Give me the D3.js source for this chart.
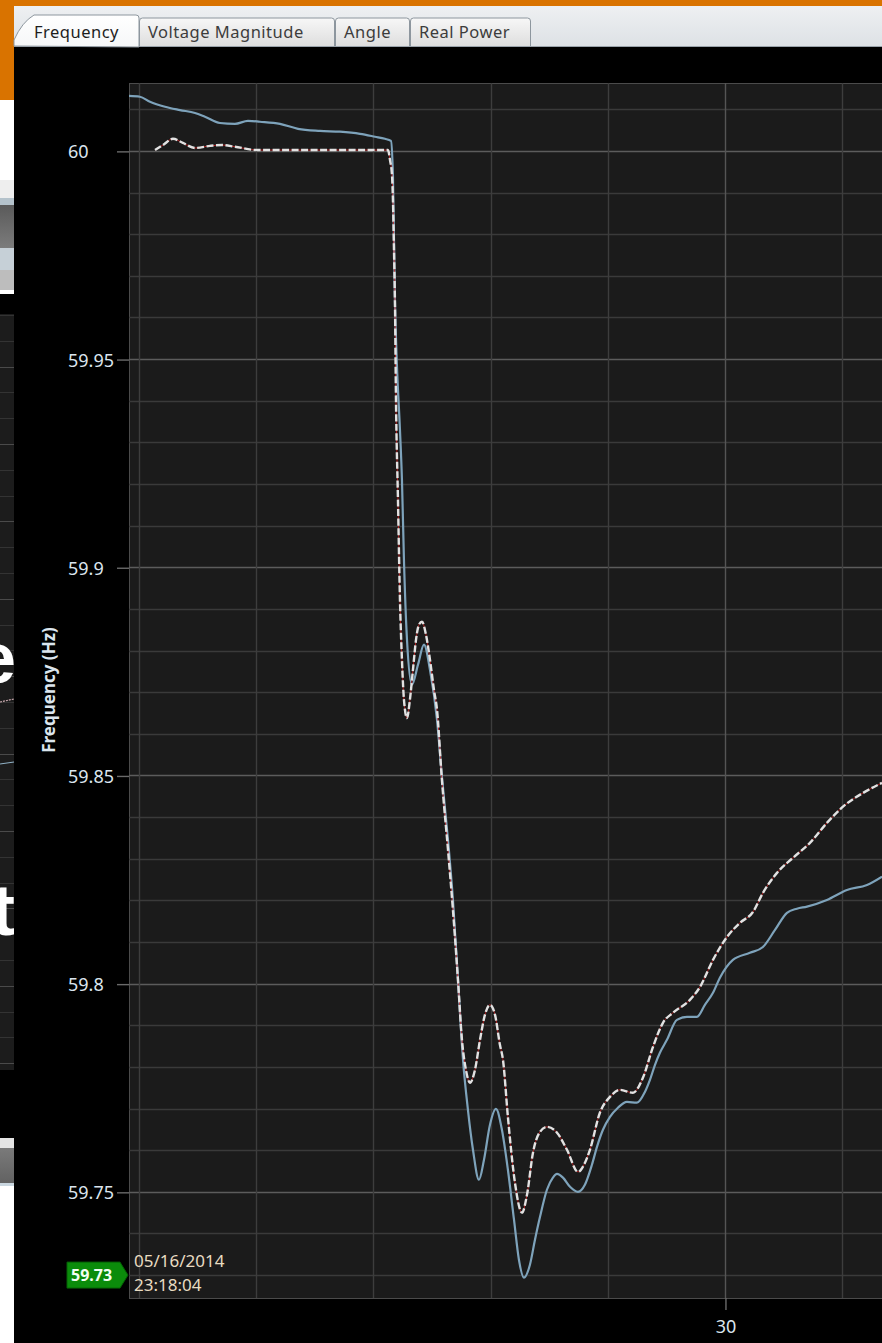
<!DOCTYPE html>
<html>
<head>
<meta charset="utf-8">
<script src="https://cdn.jsdelivr.net/npm/d3@7"></script>
<style>
  html, body { margin: 0; padding: 0; background: #000; }
  svg { display: block; }
  text { font-family: "Noto Sans", "Open Sans", sans-serif; }
</style>
</head>
<body>
<script>
// ---- data (seconds, Hz) ----
var tabs = ["Frequency", "Voltage Magnitude", "Angle", "Real Power"];

// solid light-blue trace
var blueTime = [24.915, 25.008, 25.094, 25.222, 25.350, 25.478, 25.563, 25.691, 25.819, 25.930,
  26.032, 26.203, 26.357, 26.544, 26.715, 26.886, 27.014, 27.099, 27.150, 27.167,
  27.184, 27.201, 27.227, 27.244, 27.261, 27.287, 27.329, 27.381, 27.432, 27.483,
  27.543, 27.585, 27.637, 27.679, 27.722, 27.765, 27.807, 27.850, 27.901, 27.944,
  27.995, 28.046, 28.097, 28.148, 28.200, 28.242, 28.285, 28.336, 28.379, 28.422,
  28.481, 28.532, 28.567, 28.618, 28.678, 28.746, 28.805, 28.865, 28.908, 28.959,
  29.019, 29.087, 29.164, 29.249, 29.317, 29.360, 29.403, 29.445, 29.505, 29.590,
  29.676, 29.761, 29.829, 29.898, 29.957, 30.068, 30.213, 30.324, 30.427, 30.529,
  30.614, 30.700, 30.870, 31.041, 31.212, 31.340];
var blueHz = [60.0132, 60.0130, 60.0118, 60.0106, 60.0098, 60.0091, 60.0082, 60.0067, 60.0065, 60.0072,
  60.0070, 60.0065, 60.0053, 60.0048, 60.0046, 60.0041, 60.0034, 60.0029, 60.0024, 59.9942,
  59.9642, 59.9486, 59.9330, 59.9210, 59.9018, 59.8826, 59.8718, 59.8766, 59.8814, 59.8754,
  59.8634, 59.8497, 59.8345, 59.8201, 59.8009, 59.7817, 59.7697, 59.7601, 59.7529, 59.7577,
  59.7661, 59.7699, 59.7649, 59.7553, 59.7433, 59.7337, 59.7294, 59.7325, 59.7385, 59.7440,
  59.7505, 59.7534, 59.7543, 59.7534, 59.7512, 59.7500, 59.7517, 59.7565, 59.7608, 59.7649,
  59.7680, 59.7702, 59.7716, 59.7714, 59.7740, 59.7769, 59.7805, 59.7834, 59.7865, 59.7913,
  59.7920, 59.7920, 59.7949, 59.7978, 59.8014, 59.8057, 59.8074, 59.8088, 59.8129, 59.8170,
  59.8180, 59.8185, 59.8201, 59.8225, 59.8237, 59.8257];

// dashed white/red trace
var dashTime = [25.137, 25.205, 25.290, 25.375, 25.478, 25.606, 25.708, 25.819, 26.007, 26.374,
  26.800, 27.125, 27.142, 27.159, 27.167, 27.176, 27.184, 27.193, 27.210, 27.227,
  27.244, 27.261, 27.287, 27.312, 27.338, 27.364, 27.389, 27.415, 27.449, 27.483,
  27.517, 27.543, 27.585, 27.637, 27.679, 27.722, 27.756, 27.790, 27.824, 27.867,
  27.910, 27.952, 27.995, 28.038, 28.080, 28.106, 28.148, 28.208, 28.268, 28.311,
  28.362, 28.422, 28.481, 28.567, 28.652, 28.746, 28.797, 28.848, 28.933, 29.019,
  29.104, 29.215, 29.300, 29.386, 29.471, 29.556, 29.701, 29.787, 29.898, 30.017,
  30.128, 30.239, 30.324, 30.444, 30.580, 30.725, 30.870, 31.007, 31.178, 31.340];
var dashHz = [60.0002, 60.0014, 60.0029, 60.0019, 60.0007, 60.0012, 60.0014, 60.0010, 60.0002, 60.0002,
  60.0002, 60.0002, 59.9978, 59.9942, 59.9882, 59.9762, 59.9642, 59.9402, 59.9162, 59.8922,
  59.8778, 59.8682, 59.8638, 59.8682, 59.8754, 59.8826, 59.8862, 59.8869, 59.8838, 59.8778,
  59.8706, 59.8658, 59.8489, 59.8321, 59.8177, 59.8009, 59.7865, 59.7793, 59.7762, 59.7793,
  59.7865, 59.7925, 59.7949, 59.7925, 59.7853, 59.7817, 59.7680, 59.7522, 59.7450, 59.7493,
  59.7594, 59.7644, 59.7656, 59.7642, 59.7601, 59.7548, 59.7565, 59.7601, 59.7690, 59.7728,
  59.7745, 59.7738, 59.7774, 59.7848, 59.7906, 59.7930, 59.7961, 59.7992, 59.8057, 59.8112,
  59.8146, 59.8172, 59.8218, 59.8266, 59.8302, 59.8338, 59.8386, 59.8425, 59.8458, 59.8482];

var yMajor = [60, 59.95, 59.9, 59.85, 59.8, 59.75];
var xMajor = [30];
var cursorValue = "59.73";
var cursorDate = ["05/16/2014", "23:18:04"];

var W = 882, H = 1343;
var plot = {left: 129, top: 83, right: 883, bottom: 1298};

var svg = d3.select("body").append("svg")
    .attr("width", W)
    .attr("height", H);

var defs = svg.append("defs");
function vgrad(id, stops) {
    var g = defs.append("linearGradient").attr("id", id)
        .attr("x1", 0).attr("y1", 0).attr("x2", 0).attr("y2", 1);
    stops.forEach(function(s) {
        g.append("stop").attr("offset", s[0]).attr("stop-color", s[1]);
    });
}
vgrad("tabbar", [[0, "#eef0f2"], [1, "#dde1e5"]]);
vgrad("tabOn", [[0, "#ffffff"], [1, "#f6f7f8"]]);
vgrad("tabOff", [[0, "#f7f7f7"], [1, "#dedede"]]);
vgrad("btnGray", [[0, "#5a5a5a"], [1, "#7c7c7c"]]);
vgrad("btnGray2", [[0, "#7a7a7a"], [1, "#626262"]]);

defs.append("clipPath").attr("id", "plotClip")
  .append("rect")
    .attr("x", plot.left).attr("y", plot.top)
    .attr("width", plot.right - plot.left).attr("height", plot.bottom - plot.top);

// ---- window chrome ----
svg.append("rect").attr("x", 0).attr("y", 0).attr("width", W).attr("height", H).attr("fill", "#000");
svg.append("rect").attr("x", 0).attr("y", 0).attr("width", W).attr("height", 6).attr("fill", "#d97300");
svg.append("rect").attr("x", 14).attr("y", 6).attr("width", W - 14).attr("height", 41).attr("fill", "url(#tabbar)");
svg.append("line").attr("x1", 14).attr("x2", W).attr("y1", 46.5).attr("y2", 46.5).attr("stroke", "#9aa3ab");

// left strip (piece of another window behind)
var strip = svg.append("g");
[[0, 100, "#d97300"], [100, 80, "#ffffff"], [180, 18, "#eeeeee"], [198, 7, "#b4c2cb"],
 [205, 43, "url(#btnGray)"], [248, 22, "#c6d0d7"], [270, 20, "#bdbdbd"], [290, 4, "#ffffff"],
 [294, 20, "#000000"], [314, 756, "#1c1c1c"], [1070, 68, "#000000"], [1138, 10, "#e4e4e4"],
 [1148, 35, "url(#btnGray2)"], [1183, 3, "#c9d6df"], [1186, 157, "#ffffff"]]
  .forEach(function(r) {
      strip.append("rect").attr("x", 0).attr("y", r[0]).attr("width", 14).attr("height", r[1]).attr("fill", r[2]);
  });
d3.range(315, 1070, 25.8).forEach(function(yy, i) {
    strip.append("line").attr("x1", 0).attr("x2", 14).attr("y1", Math.round(yy) + 0.5).attr("y2", Math.round(yy) + 0.5)
        .attr("stroke", i % 3 === 2 ? "#4a4a4a" : "#333");
});
strip.append("line").attr("x1", 0).attr("x2", 14).attr("y1", 702).attr("y2", 699)
    .attr("stroke", "#c9a9ae").attr("stroke-width", 1.2).attr("stroke-dasharray", "2,1");
strip.append("line").attr("x1", 0).attr("x2", 14).attr("y1", 764).attr("y2", 762)
    .attr("stroke", "#8fb0c4").attr("stroke-width", 1.2);
var stripClip = defs.append("clipPath").attr("id", "stripClip");
stripClip.append("rect").attr("x", 0).attr("y", 0).attr("width", 14).attr("height", H);
strip.append("text").attr("x", 16).attr("y", 683).attr("text-anchor", "end")
    .attr("clip-path", "url(#stripClip)")
    .attr("font-size", 72).attr("font-weight", "bold").attr("fill", "#fff")
    .style("font-family", "Liberation Sans, Arial, sans-serif").text("e");
strip.append("text").attr("x", -9).attr("y", 935)
    .attr("clip-path", "url(#stripClip)")
    .attr("font-size", 72).attr("font-weight", "bold").attr("fill", "#fff")
    .style("font-family", "Liberation Sans, Arial, sans-serif").text("t");

// tabs
var tabX = [14, 139, 335, 410, 531];
var tabG = svg.append("g");
tabs.forEach(function(name, i) {
    var x0 = tabX[i], x1 = tabX[i + 1];
    if (i === 0) {
        tabG.append("path")
            .attr("d", "M" + x0 + ",46 L" + x0 + ",40 Q" + (x0 + 8) + ",22 " + (x0 + 20) + ",15 L" + (x1 - 3) + ",15 Q" + x1 + ",15 " + x1 + ",18 L" + x1 + ",47 Z")
            .attr("fill", "url(#tabOn)").attr("stroke", "#8d969e");
    } else {
        tabG.append("path")
            .attr("d", "M" + (x0 + 0.5) + ",46 L" + (x0 + 0.5) + ",21 Q" + (x0 + 0.5) + ",18 " + (x0 + 3.5) + ",18 L" + (x1 - 3.5) + ",18 Q" + (x1 - 0.5) + ",18 " + (x1 - 0.5) + ",21 L" + (x1 - 0.5) + ",46")
            .attr("fill", "url(#tabOff)").attr("stroke", "#8d969e");
    }
    tabG.append("text")
        .attr("x", i === 0 ? x0 + 20 : x0 + 9)
        .attr("y", 38)
        .attr("font-size", 16.5)
        .attr("letter-spacing", 0.5)
        .attr("fill", i === 0 ? "#1e1e1e" : "#3c3c3c")
        .text(name);
});

// ---- scales ----
var x = d3.scaleLinear().domain([24.915, 31.34]).range([129, 882]);
var y = d3.scaleLinear().domain([59.7245, 60.0163]).range([plot.bottom, plot.top]);

// plot background
svg.append("rect")
    .attr("x", plot.left + 0.5).attr("y", plot.top + 0.5)
    .attr("width", plot.right - plot.left).attr("height", plot.bottom - plot.top)
    .attr("fill", "#1b1b1b").attr("stroke", "#4b4b4b");

// grid
var yGrid = d3.range(5973, 6002).map(function(k) { return k / 100; });
var xGrid = d3.range(25, 32);
var grid = svg.append("g").attr("clip-path", "url(#plotClip)");
grid.selectAll("line.h").data(yGrid).enter().append("line")
    .attr("x1", plot.left).attr("x2", plot.right)
    .attr("y1", function(d) { return Math.round(y(d)) + 0.5; })
    .attr("y2", function(d) { return Math.round(y(d)) + 0.5; })
    .attr("stroke", function(d) { return Math.round(d * 100) % 5 === 0 ? "#5c5c5c" : "#3a3a3a"; })
    .attr("stroke-width", function(d) { return Math.round(d * 100) % 5 === 0 ? 1.6 : 1.4; });
grid.selectAll("line.v").data(xGrid).enter().append("line")
    .attr("y1", plot.top).attr("y2", plot.bottom)
    .attr("x1", function(d) { return Math.round(x(d)) + 0.5; })
    .attr("x2", function(d) { return Math.round(x(d)) + 0.5; })
    .attr("stroke", function(d) { return xMajor.indexOf(d) >= 0 ? "#555" : "#3d3d3d"; })
    .attr("stroke-width", 1.4);

// axes
var yAxis = svg.append("g")
    .attr("transform", "translate(" + plot.left + ",0.5)")
    .call(d3.axisLeft(y).tickValues(yMajor).tickSize(12).tickPadding(0)
        .tickFormat(function(d) { return String(+d.toFixed(2)); }));
yAxis.select(".domain").remove();
yAxis.selectAll(".tick line").attr("stroke", "#6a6a6a").attr("stroke-width", 1.4);
yAxis.selectAll(".tick text")
    .attr("x", -61).attr("text-anchor", "start").attr("dy", "0.36em")
    .attr("font-size", 18).attr("fill", "#dbe5ee")
    .style("font-family", "Noto Sans, sans-serif");

var xAxis = svg.append("g")
    .attr("transform", "translate(0.5," + plot.bottom + ")")
    .call(d3.axisBottom(x).tickValues(xMajor).tickSize(12).tickFormat(d3.format("d")));
xAxis.select(".domain").remove();
xAxis.selectAll(".tick line").attr("stroke", "#6a6a6a").attr("stroke-width", 1.4);
xAxis.selectAll(".tick text")
    .attr("y", 22).attr("dy", "0.71em")
    .attr("font-size", 18).attr("fill", "#dbe5ee")
    .style("font-family", "Noto Sans, sans-serif");

svg.append("text")
    .attr("transform", "translate(55,690) rotate(-90)")
    .attr("text-anchor", "middle")
    .attr("font-size", 17).attr("font-weight", "bold").attr("fill", "#dbe5ee")
    .text("Frequency (Hz)");

// ---- traces ----
function series(ts, fs) {
    return ts.map(function(t, i) { return {t: t, f: fs[i]}; });
}
var line = d3.line()
    .x(function(d) { return x(d.t); })
    .y(function(d) { return y(d.f); })
    .curve(d3.curveMonotoneX);

var traces = svg.append("g").attr("clip-path", "url(#plotClip)");
traces.append("path")
    .datum(series(blueTime, blueHz))
    .attr("d", line)
    .attr("fill", "none").attr("stroke", "#7ea3bb").attr("stroke-width", 2.2)
    .attr("stroke-linejoin", "round");
var dashData = series(dashTime, dashHz);
traces.append("path")
    .datum(dashData)
    .attr("d", line)
    .attr("fill", "none").attr("stroke", "#c42222").attr("stroke-width", 0.9);
traces.append("path")
    .datum(dashData)
    .attr("d", line)
    .attr("fill", "none").attr("stroke", "#e2e2e2").attr("stroke-width", 2.4)
    .attr("stroke-dasharray", "7,2.5");

// ---- cursor readout ----
var cy = y(59.73);
svg.append("path")
    .attr("d", "M67," + (cy - 13) + " L120," + (cy - 13) + " L128," + cy + " L120," + (cy + 13) + " L67," + (cy + 13) + " Z")
    .attr("fill", "#0b8c0b").attr("stroke", "#056005");
svg.append("text")
    .attr("x", 71).attr("y", cy + 6)
    .attr("font-size", 16).attr("font-weight", "bold").attr("fill", "#f2fff2")
    .text(cursorValue);
svg.selectAll("text.date").data(cursorDate).enter().append("text")
    .attr("class", "date")
    .attr("x", 134)
    .attr("y", function(d, i) { return 1267 + i * 24; })
    .attr("font-size", 17).attr("fill", "#e9dcc2")
    .text(function(d) { return d; });
</script>
</body>
</html>
